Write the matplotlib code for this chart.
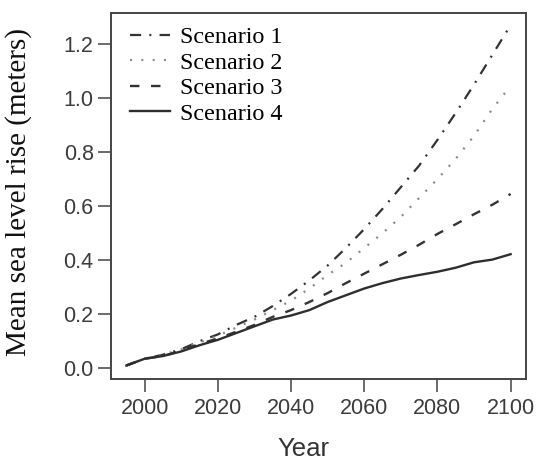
import matplotlib
matplotlib.use("Agg")
import matplotlib.pyplot as plt

# values, every 5 years
years = [1995, 2000, 2005, 2010, 2015, 2020, 2025, 2030, 2035, 2040, 2045,
         2050, 2055, 2060, 2065, 2070, 2075, 2080, 2085, 2090, 2095, 2100]
scenario_1 = [0.010, 0.035, 0.050, 0.070, 0.100, 0.125, 0.160, 0.190, 0.230, 0.275, 0.325,
              0.380, 0.445, 0.515, 0.590, 0.670, 0.750, 0.845, 0.945, 1.050, 1.160, 1.270]
scenario_2 = [0.010, 0.035, 0.050, 0.070, 0.095, 0.120, 0.150, 0.180, 0.215, 0.250, 0.295,
              0.345, 0.390, 0.445, 0.500, 0.560, 0.630, 0.700, 0.775, 0.860, 0.960, 1.045]
scenario_3 = [0.010, 0.035, 0.045, 0.065, 0.090, 0.110, 0.135, 0.160, 0.190, 0.215, 0.245,
              0.278, 0.315, 0.350, 0.385, 0.420, 0.457, 0.497, 0.533, 0.570, 0.605, 0.645]
scenario_4 = [0.010, 0.035, 0.045, 0.062, 0.085, 0.105, 0.130, 0.155, 0.180, 0.195, 0.215,
              0.245, 0.270, 0.295, 0.315, 0.332, 0.345, 0.357, 0.372, 0.392, 0.402, 0.422]

labels = ["Scenario 1", "Scenario 2", "Scenario 3", "Scenario 4"]
x_ticks = [2000, 2020, 2040, 2060, 2080, 2100]
y_ticks = [0.0, 0.2, 0.4, 0.6, 0.8, 1.0, 1.2]

SERIF = ["Liberation Serif", "DejaVu Serif"]
SANS = ["Liberation Sans", "DejaVu Sans"]
TICK_COLOR = "#3c3c3c"

fig = plt.figure(figsize=(5.36, 4.61), dpi=100)
ax = fig.add_axes([0.2071, 0.1779, 0.7742, 0.7939])

ax.plot(years, scenario_1, color="#333333", lw=1.6, linestyle=(0, (5.0, 3.7, 0.9, 3.7)),
        label=labels[0])
ax.plot(years, scenario_2, color="#8a8a8a", lw=1.6, linestyle=(0, (0.9, 4.2)),
        label=labels[1])
ax.plot(years, scenario_3, color="#333333", lw=1.7, linestyle=(0, (4.0, 4.9)),
        label=labels[2])
ax.plot(years, scenario_4, color="#2e2e2e", lw=1.7, linestyle="-", label=labels[3])

ax.set_xlim(1990.8, 2104.2)
ax.set_ylim(-0.04, 1.315)
ax.set_xticks(x_ticks)
ax.set_yticks(y_ticks)
ax.set_xticklabels([str(t) for t in x_ticks], family=SANS, fontsize=15.5, color=TICK_COLOR)
ax.set_yticklabels([f"{t:.1f}" for t in y_ticks], family=SANS, fontsize=15.5, color=TICK_COLOR)
ax.tick_params(axis="both", direction="out", length=9.5, width=1.1, color="#444444")
ax.tick_params(axis="x", pad=4)
ax.tick_params(axis="y", pad=3)

for spine in ax.spines.values():
    spine.set_color("#444444")
    spine.set_linewidth(1.4)

ax.set_xlabel("Year", family=SANS, fontsize=18.5, color="#333333")
ax.xaxis.set_label_coords(0.463, -0.158)
ax.set_ylabel("Mean sea level rise (meters)", family=SERIF, fontsize=21, color="#111111")
ax.yaxis.set_label_coords(-0.19, 0.512)

ax.legend(loc="upper left", bbox_to_anchor=(0.046, 0.964), frameon=False,
          borderaxespad=0, borderpad=0, handlelength=1.67, handletextpad=0.4,
          labelspacing=0.15, prop={"family": SERIF, "size": 17.4})

fig.savefig("out.png", dpi=100)
